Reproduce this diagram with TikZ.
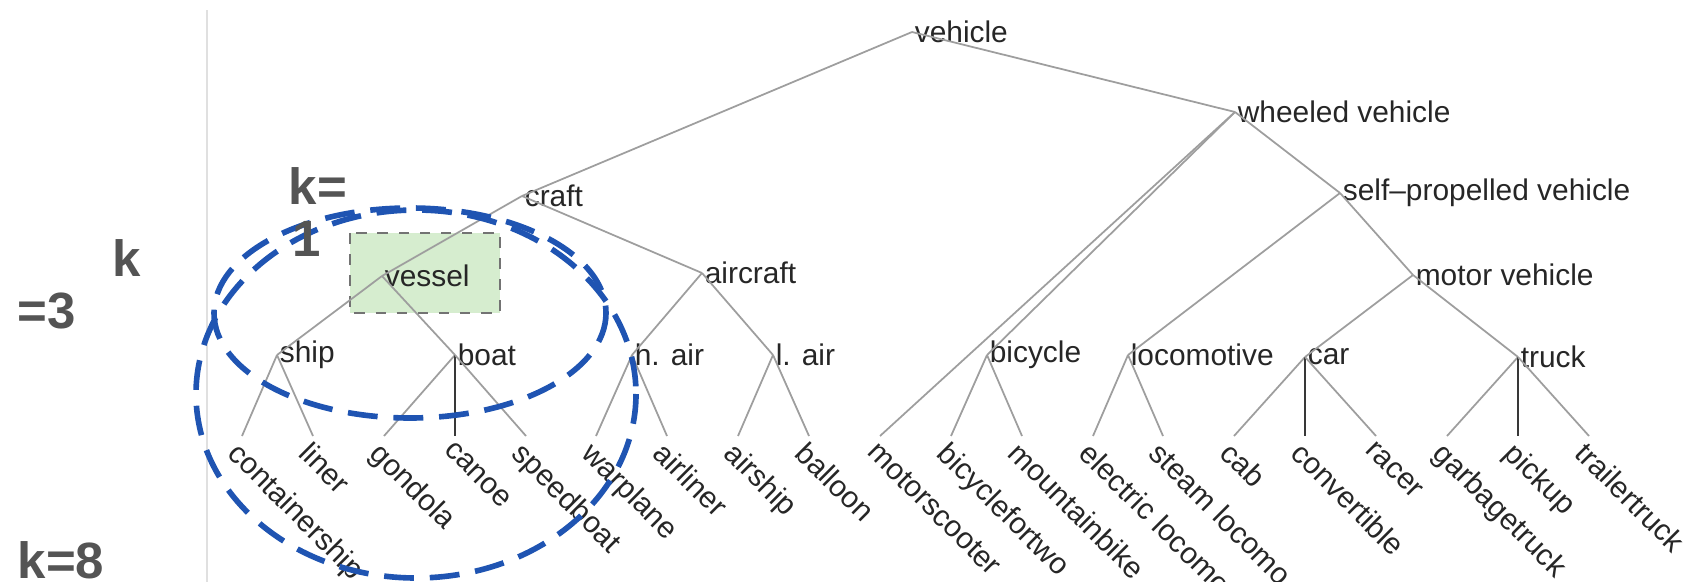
\documentclass[tikz,border=0pt]{standalone}
\usepackage{fontspec}
\setmainfont{Liberation Sans}
\usepackage{xcolor}
\usetikzlibrary{arrows.meta, positioning, calc}
\definecolor{EdgeGray}{rgb}{0.62, 0.62, 0.62}
\definecolor{StemGray}{rgb}{0.22, 0.22, 0.22}
\definecolor{RingBlue}{rgb}{0.12, 0.33, 0.70}
\definecolor{KGray}{rgb}{0.33, 0.33, 0.33}
\definecolor{BoxGreen}{rgb}{0.84, 0.93, 0.81}

\begin{document}
\begin{tikzpicture}[x=0.01cm, y=-0.01cm,
    word/.style={anchor=west, inner sep=0.6pt, font=\fontsize{8.5}{10}\selectfont, text=black!85},
    leaf/.style={word, anchor=north west, rotate=-45},
    edge/.style={EdgeGray, line width=0.5pt},
    stem/.style={StemGray, line width=0.6pt},
    ring/.style={RingBlue, line width=1.6pt, dash pattern=on 8.5pt off 4.5pt},
    klabel/.style={font=\fontsize{14.5}{15}\selectfont\bfseries, text=KGray, inner sep=0pt, anchor=base west}]
        \useasboundingbox (0,0) rectangle (1691,582);
        % Separator
        \draw [black!12, line width=0.7pt] (207,10) -- (207,582);
        % Highlight box behind vessel
        \filldraw [fill=BoxGreen, draw=black!55, dashed, line width=0.5pt] (350,233) rectangle (500,313);
        % Inner labels
        \node [word] (vehicle) at (912,32) {vehicle};
        \node [word] (wheeled) at (1235,112) {wheeled vehicle};
        \node [word] (craft) at (522,196) {craft};
        \node [word] (selfprop) at (1340,193) {self--propelled vehicle};
        \node [word] (vessel) at (382,276) {vessel};
        \node [word] (aircraft) at (702,273) {aircraft};
        \node [word] (motor) at (1413,275) {motor vehicle};
        \node [word] (ship) at (277,355) {ship};
        \node [word] (boat) at (455,355) {boat};
        \node [word] (hair) at (632,355) {h. air};
        \node [word] (lair) at (773,355) {l. air};
        \node [word] (bicycle) at (987,355) {bicycle};
        \node [word] (loco) at (1128,355) {locomotive};
        \node [word] (car) at (1305,357) {car};
        \node [word] (truck) at (1518,357) {truck};
        % Leaves
        \node [leaf] (containership) at (242,436) {containership};
        \node [leaf] (liner) at (313,436) {liner};
        \node [leaf] (gondola) at (384,436) {gondola};
        \node [leaf] (canoe) at (455,436) {canoe};
        \node [leaf] (speedboat) at (526,436) {speedboat};
        \node [leaf] (warplane) at (596,436) {warplane};
        \node [leaf] (airliner) at (667,436) {airliner};
        \node [leaf] (airship) at (738,436) {airship};
        \node [leaf] (balloon) at (809,436) {balloon};
        \node [leaf] (motorscooter) at (880,436) {motorscooter};
        \node [leaf] (bikefortwo) at (951,436) {bicyclefortwo};
        \node [leaf] (mtbike) at (1022,436) {mountainbike};
        \node [leaf] (eloco) at (1093,436) {electric locomo};
        \node [leaf] (sloco) at (1163,436) {steam locomo.};
        \node [leaf] (cab) at (1234,436) {cab};
        \node [leaf] (convertible) at (1305,436) {convertible};
        \node [leaf] (racer) at (1376,436) {racer};
        \node [leaf] (garbage) at (1447,436) {garbagetruck};
        \node [leaf] (pickup) at (1518,436) {pickup};
        \node [leaf] (trailer) at (1589,436) {trailertruck};
        % Branches
        \draw [edge] (vehicle.west) -- (craft.west);
        \draw [edge] (vehicle.west) -- (wheeled.west);
        \draw [edge] (craft.west) -- (vessel.west);
        \draw [edge] (craft.west) -- (aircraft.west);
        \draw [edge] (vessel.west) -- (ship.west);
        \draw [edge] (vessel.west) -- (boat.west);
        \draw [edge] (aircraft.west) -- (hair.west);
        \draw [edge] (aircraft.west) -- (lair.west);
        \draw [edge] (wheeled.west) -- (motorscooter.north west);
        \draw [edge] (wheeled.west) -- (bicycle.west);
        \draw [edge] (wheeled.west) -- (selfprop.west);
        \draw [edge] (selfprop.west) -- (loco.west);
        \draw [edge] (selfprop.west) -- (motor.west);
        \draw [edge] (motor.west) -- (car.west);
        \draw [edge] (motor.west) -- (truck.west);
        \draw [edge] (ship.west) -- (containership.north west);
        \draw [edge] (ship.west) -- (liner.north west);
        \draw [edge] (boat.west) -- (gondola.north west);
        \draw [stem] (boat.west) -- (canoe.north west);
        \draw [edge] (boat.west) -- (speedboat.north west);
        \draw [edge] (hair.west) -- (warplane.north west);
        \draw [edge] (hair.west) -- (airliner.north west);
        \draw [edge] (lair.west) -- (airship.north west);
        \draw [edge] (lair.west) -- (balloon.north west);
        \draw [edge] (bicycle.west) -- (bikefortwo.north west);
        \draw [edge] (bicycle.west) -- (mtbike.north west);
        \draw [edge] (loco.west) -- (eloco.north west);
        \draw [edge] (loco.west) -- (sloco.north west);
        \draw [edge] (car.west) -- (cab.north west);
        \draw [stem] (car.west) -- (convertible.north west);
        \draw [edge] (car.west) -- (racer.north west);
        \draw [edge] (truck.west) -- (garbage.north west);
        \draw [stem] (truck.west) -- (pickup.north west);
        \draw [edge] (truck.west) -- (trailer.north west);
        % Neighbourhood rings
        \draw [ring] (410,313) ellipse [x radius=196, y radius=105];
        \draw [ring] (416,394) ellipse [x radius=220, y radius=184];
        % Ring sizes
        \node [klabel] (kone) at (288,205) {k=};
        \node [klabel] (konenum) at (292,257) {1};
        \node [klabel] (kthree) at (112,277) {k};
        \node [klabel] (kthreenum) at (17,328) {=3};
        \node [klabel] (keight) at (17,578) {k=8};
    \end{tikzpicture}
\end{document}
